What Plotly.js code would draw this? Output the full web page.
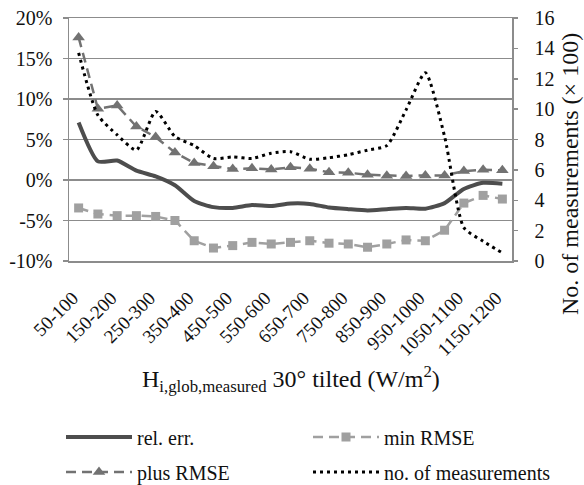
<!DOCTYPE html>
<html><head><meta charset="utf-8">
<script src="https://cdn.plot.ly/plotly-3.0.1.min.js"></script>
<style>html,body{margin:0;padding:0;background:#fff}#chart{width:584px;height:485px}</style>
</head><body><div id="chart"></div>
<script>
const categories = ['50-100','100-150','150-200','200-250','250-300','300-350','350-400','400-450','450-500','500-550','550-600','600-650','650-700','700-750','750-800','800-850','850-900','900-950','950-1000','1000-1050','1050-1100','1100-1150','1150-1200'];
const relErr = [7.1,2.3,2.4,1.15,0.45,-0.65,-2.6,-3.35,-3.45,-3.1,-3.2,-2.9,-2.95,-3.4,-3.6,-3.75,-3.6,-3.45,-3.55,-2.85,-1.1,-0.35,-0.45];
const minRMSE = [-3.45,-4.2,-4.4,-4.4,-4.5,-5.0,-7.5,-8.4,-8.1,-7.7,-7.9,-7.7,-7.5,-7.8,-7.9,-8.3,-7.9,-7.4,-7.5,-6.2,-2.85,-1.9,-2.35];
const plusRMSE = [17.6,8.8,9.2,6.6,5.3,3.4,2.1,1.7,1.35,1.45,1.3,1.57,1.4,0.95,0.9,0.65,0.53,0.5,0.57,0.57,1.1,1.27,1.2];
const measurements = [13.7,9.6,8.3,7.3,9.85,8.2,7.6,6.75,6.85,6.75,7.1,7.2,6.7,6.8,7.0,7.3,7.6,9.95,12.4,8.2,2.2,1.3,0.53];
const leftTickVals = [-10,-5,0,5,10,15,20];
const leftTickText = ['-10%','-5%','0%','5%','10%','15%','20%'];
const rightTickVals = [0,2,4,6,8,10,12,14,16];
const seriesNames = ['rel. err.','min RMSE','plus RMSE','no. of measurements'];
const xTitle = 'H<sub>i,glob,measured</sub> 30° tilted (W/m<sup>2</sup>)';
const y2Title = 'No. of measurements (× 100)';

const FONT = 'Liberation Serif';
const shownTicks = categories.filter((c,i)=>i%2===0);

const traces = [
  {x:categories, y:relErr, name:seriesNames[0], type:'scatter', mode:'lines',
   line:{color:'#4d4d4d', width:4, shape:'spline', smoothing:0.6}, legend:'legend'},
  {x:categories, y:minRMSE, name:seriesNames[1], type:'scatter', mode:'lines+markers',
   line:{color:'#a0a0a0', width:2.5, dash:'10px,6px'}, marker:{symbol:'square', size:9, color:'#a0a0a0'}, legend:'legend2'},
  {x:categories, y:plusRMSE, name:seriesNames[2], type:'scatter', mode:'lines+markers',
   line:{color:'#727272', width:2.5, dash:'10px,6px'}, marker:{symbol:'triangle-up', size:11, color:'#727272'}, legend:'legend3'},
  {x:categories, y:measurements, name:seriesNames[3], type:'scatter', mode:'lines', yaxis:'y2',
   line:{color:'#000000', width:3, dash:'3px,4px', shape:'spline', smoothing:0.6}, legend:'legend4'}
];

const PW = 443, PH = 243, PL = 69, PB = 261;
const legBase = {xref:'paper', yref:'paper', xanchor:'left', yanchor:'middle', orientation:'h',
  font:{family:FONT, size:20, color:'#111'}, itemwidth:66, bgcolor:'rgba(0,0,0,0)', borderwidth:0};

const layout = {
  width:584, height:485,
  margin:{l:69, r:72, t:18, b:224, autoexpand:false},
  paper_bgcolor:'#fff', plot_bgcolor:'#fff',
  font:{family:FONT, color:'#111'},
  showlegend:true,
  xaxis:{type:'category', range:[-0.5,22.5], tickmode:'array', tickvals:shownTicks, ticktext:shownTicks,
    tickangle:-45, tickfont:{family:FONT, size:19, color:'#111'}, ticks:'', showgrid:false,
    showline:true, mirror:true, linecolor:'#8c8c8c', linewidth:1.5,
    zeroline:false, ticklabelstandoff:17, ticklabelshift:-6, automargin:false},
  xaxis2:{overlaying:'x', anchor:'free', position:1/3, range:[-0.5,22.5], tick0:0.5, dtick:1,
    showticklabels:false, ticks:'outside', ticklen:5, tickwidth:1.5, tickcolor:'#8c8c8c',
    showline:true, linecolor:'#8c8c8c', linewidth:1.5, showgrid:false, zeroline:false, automargin:false},
  yaxis:{range:[-10,20], tickmode:'array', tickvals:leftTickVals, ticktext:leftTickText,
    tickfont:{family:FONT, size:20, color:'#111'}, showgrid:true, gridcolor:'#8c8c8c', gridwidth:1.5,
    zeroline:false, showline:true, linecolor:'#8c8c8c', linewidth:1.5, ticks:'outside', ticklen:5,
    tickcolor:'#8c8c8c', tickwidth:1.5, ticklabelstandoff:6, automargin:false},
  yaxis2:{range:[0,16], overlaying:'y', side:'right', tickmode:'array', tickvals:rightTickVals,
    tickfont:{family:FONT, size:20, color:'#111'}, showgrid:false, zeroline:false, showline:true,
    linecolor:'#8c8c8c', linewidth:1.5, ticks:'outside', ticklen:4, tickcolor:'#8c8c8c', tickwidth:1.5,
    ticklabelstandoff:13, automargin:false},
  legend: Object.assign({}, legBase, {x:(61-PL)/PW, y:(PB-437)/PH}),
  legend2: Object.assign({}, legBase, {x:(308-PL)/PW, y:(PB-437)/PH}),
  legend3: Object.assign({}, legBase, {x:(61-PL)/PW, y:(PB-472)/PH}),
  legend4: Object.assign({}, legBase, {x:(308-PL)/PW, y:(PB-472)/PH}),
  annotations:[
    {text:xTitle, xref:'paper', yref:'paper', x:0.5, y:(PB-379)/PH, xanchor:'center', yanchor:'middle',
     showarrow:false, font:{family:FONT, size:24, color:'#111'}},
    {text:y2Title, xref:'paper', yref:'paper', x:(570-PL)/PW, y:(PB-174)/PH, xanchor:'center', yanchor:'middle',
     textangle:-90, showarrow:false, font:{family:FONT, size:24, color:'#111'}}
  ]
};
Plotly.newPlot('chart', traces, layout, {displayModeBar:false, staticPlot:true});
</script></body></html>
